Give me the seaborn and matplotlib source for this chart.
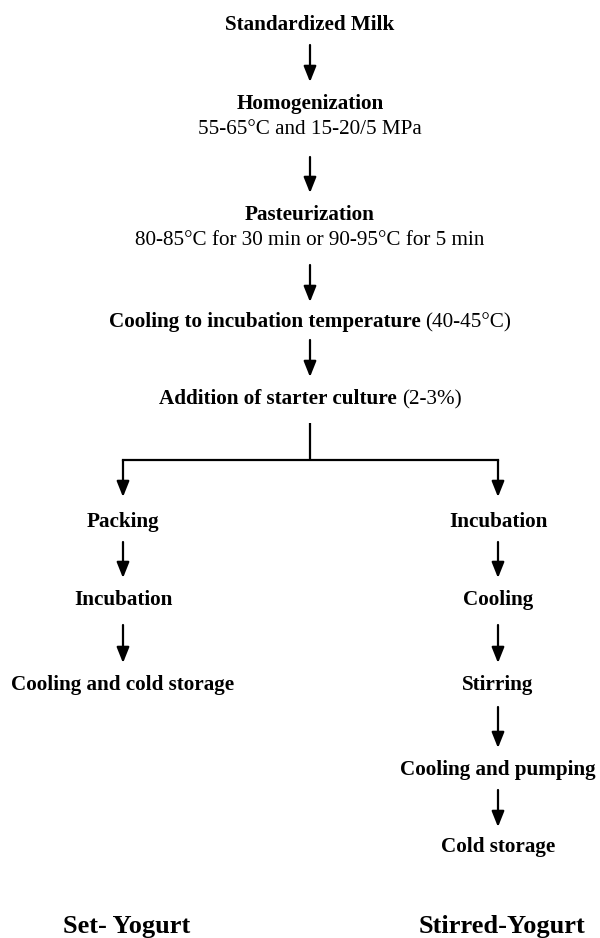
import matplotlib
matplotlib.use("Agg")
import matplotlib.pyplot as plt
import seaborn as sns

# Flow chart of set and stirred yogurt manufacture
sns.set_theme(style="white")
plt.rcParams['font.family'] = ['Liberation Serif', 'DejaVu Serif']

# --- content ---
main_steps = ["Standardized Milk", "Homogenization", "Pasteurization",
              "Cooling to incubation temperature", "Addition of starter culture"]
main_notes = ["", "55-65°C and 15-20/5 MPa", "80-85°C for 30 min or 90-95°C for 5 min",
              "(40-45°C)", "(2-3%)"]
inline_note = [False, False, False, True, True]
set_steps = ["Packing", "Incubation", "Cooling and cold storage"]
stirred_steps = ["Incubation", "Cooling", "Stirring", "Cooling and pumping", "Cold storage"]
products = ["Set- Yogurt", "Stirred-Yogurt"]

# --- layout (pixels, origin top-left) ---
main_x = 310
main_title_y = [23, 102, 213, 320, 397]
main_note_y = [None, 127, 238, None, None]
main_arrows = [(45, 82), (157, 193), (265, 302), (340, 377)]
branch_top, branch_y = 423, 460
left_x, right_x = 123, 498
branch_tip = 497
set_y = [520, 598, 683]
stirred_y = [520, 598, 683, 768, 845]
side_arrows_set = [(542, 578), (625, 663)]
side_arrows_stirred = [(542, 578), (625, 663), (707, 748), (790, 827)]
product_x = [127, 502]
product_y = 924

FS = 15.2
FS_BIG = 19
LW = 1.6

fig = plt.figure(figsize=(6, 9.38), dpi=100)
ax = fig.add_axes([0, 0, 1, 1])
ax.set_xlim(0, 600)
ax.set_ylim(938, 0)
ax.axis("off")
sns.despine(ax=ax, left=True, bottom=True)


def label(x, y, s, bold=True, size=FS, ha="center"):
    # y is the visual middle of the capitals, shift to baseline
    return ax.text(x, y + 0.34 * size / 0.72, s, ha=ha, va="baseline",
                   fontsize=size, fontweight="bold" if bold else "normal",
                   color="black")


def arrow(x, y0, y1):
    ax.annotate("", xy=(x, y1), xytext=(x, y0),
                arrowprops=dict(arrowstyle="-|>,head_length=0.95,head_width=0.38",
                                lw=LW, color="black", shrinkA=0, shrinkB=0,
                                mutation_scale=10))


fig.canvas.draw()
renderer = fig.canvas.get_renderer()

# main column
for step, note, inline, ty, ny in zip(main_steps, main_notes, inline_note,
                                      main_title_y, main_note_y):
    if inline:
        t1 = label(0, ty, step, bold=True, ha="left")
        t2 = label(0, ty, note, bold=False, ha="left")
        w1 = t1.get_window_extent(renderer).width
        w2 = t2.get_window_extent(renderer).width
        gap = 0.25 * FS / 0.72
        x0 = main_x - (w1 + gap + w2) / 2
        t1.set_x(x0)
        t2.set_x(x0 + w1 + gap)
    else:
        label(main_x, ty, step, bold=True)
        if note:
            label(main_x, ny, note, bold=False)

for y0, y1 in main_arrows:
    arrow(main_x, y0, y1)

# split into two lines
ax.plot([main_x, main_x], [branch_top, branch_y], color="black", lw=LW,
        solid_capstyle="butt")
ax.plot([left_x, right_x], [branch_y, branch_y], color="black", lw=LW,
        solid_capstyle="projecting")
arrow(left_x, branch_y, branch_tip)
arrow(right_x, branch_y, branch_tip)

# set yogurt line
for s, y in zip(set_steps, set_y):
    label(left_x, y, s)
for y0, y1 in side_arrows_set:
    arrow(left_x, y0, y1)

# stirred yogurt line
for s, y in zip(stirred_steps, stirred_y):
    label(right_x, y, s)
for y0, y1 in side_arrows_stirred:
    arrow(right_x, y0, y1)

# product names
for s, x in zip(products, product_x):
    label(x, product_y, s, size=FS_BIG)

fig.savefig("out.png", dpi=100, facecolor="white")
